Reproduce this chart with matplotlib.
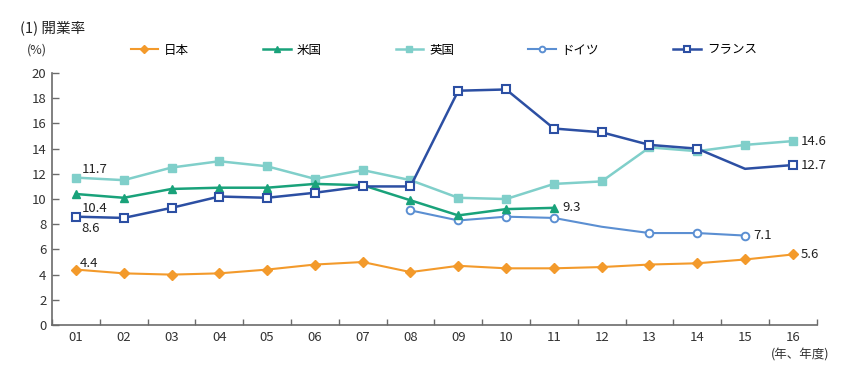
import matplotlib
matplotlib.use("Agg")
import matplotlib.pyplot as plt
import numpy as np

plt.rcParams["font.family"] = ["Noto Sans CJK JP", "DejaVu Sans"]

years = ["01", "02", "03", "04", "05", "06", "07", "08",
         "09", "10", "11", "12", "13", "14", "15", "16"]

japan = [4.4, 4.1, 4.0, 4.1, 4.4, 4.8, 5.0, 4.2,
         4.7, 4.5, 4.5, 4.6, 4.8, 4.9, 5.2, 5.6]
usa = [10.4, 10.1, 10.8, 10.9, 10.9, 11.2, 11.1, 9.9,
       8.7, 9.2, 9.3]
uk = [11.7, 11.5, 12.5, 13.0, 12.6, 11.6, 12.3, 11.5,
      10.1, 10.0, 11.2, 11.4, 14.1, 13.8, 14.3, 14.6]
germany = [9.1, 8.3, 8.6, 8.5, 7.8, 7.3, 7.3, 7.1]  # 08 - 15
france = [8.6, 8.5, 9.3, 10.2, 10.1, 10.5, 11.0, 11.0,
          18.6, 18.7, 15.6, 15.3, 14.3, 14.0, 12.4, 12.7]

# points drawn without a marker in the original
germany_marked = [0, 1, 2, 3, 5, 6, 7]
france_marked = [i for i in range(16) if i != 14]

c_jp = "#F39A2B"
c_us = "#19A27A"
c_uk = "#80CFCA"
c_de = "#5B8FD2"
c_fr = "#2C4FA3"
c_ax = "#6b6b6b"

fig = plt.figure(figsize=(8.42, 3.71), dpi=100)
ax = fig.add_axes([0.0618, 0.124, 0.9082, 0.679])

x = np.arange(len(years))
ax.plot(x, japan, color=c_jp, lw=1.5, marker="D", ms=5.5, mec=c_jp,
        label="日本", zorder=3)
ax.plot(x[:len(usa)], usa, color=c_us, lw=1.8, marker="^", ms=6, mec=c_us,
        label="米国", zorder=4)
ax.plot(x, uk, color=c_uk, lw=1.8, marker="s", ms=5.5, mec=c_uk,
        label="英国", zorder=3)
ax.plot(x[7:7 + len(germany)], germany, color=c_de, lw=1.5, marker="o", ms=5.5,
        mfc="white", mec=c_de, mew=1.4, markevery=germany_marked,
        label="ドイツ", zorder=3)
ax.plot(x, france, color=c_fr, lw=1.8, marker="s", ms=6, mfc="white",
        mec=c_fr, mew=1.5, markevery=france_marked, label="フランス", zorder=5)

lab = dict(fontsize=9.5, color="#222222")
ax.annotate(f"{uk[0]:.1f}", (x[0], uk[0]), xytext=(4, 1), textcoords="offset points",
            ha="left", va="bottom", **lab)
ax.annotate(f"{usa[0]:.1f}", (x[0], usa[0]), xytext=(4, -6), textcoords="offset points",
            ha="left", va="top", **lab)
ax.annotate(f"{france[0]:.1f}", (x[0], france[0]), xytext=(4, -4), textcoords="offset points",
            ha="left", va="top", **lab)
ax.annotate(f"{japan[0]:.1f}", (x[0], japan[0]), xytext=(3, 0), textcoords="offset points",
            ha="left", va="bottom", **lab)
for xs, ys in [(x[len(usa) - 1], usa[-1]), (x[14], germany[-1]),
               (x[-1], uk[-1]), (x[-1], france[-1]), (x[-1], japan[-1])]:
    ax.annotate(f"{ys:.1f}", (xs, ys), xytext=(6, 0), textcoords="offset points",
                ha="left", va="center", **lab)

ax.set_xlim(-0.5, 15.5)
ax.set_ylim(0, 20)
ax.set_yticks(np.arange(0, 21, 2))
ax.set_xticks(x)
ax.set_xticklabels(years)
ax.set_xticks(np.arange(-0.5, 16, 1), minor=True)
ax.tick_params(axis="x", which="major", length=0, pad=4, labelsize=9.5, labelcolor="#333333")
ax.tick_params(axis="x", which="minor", direction="in", length=4, color=c_ax, width=1)
ax.tick_params(axis="y", direction="in", length=5, color=c_ax, width=1, pad=4,
               labelsize=9.5, labelcolor="#333333")
for s in ["top", "right"]:
    ax.spines[s].set_visible(False)
for s in ["left", "bottom"]:
    ax.spines[s].set_color(c_ax)
    ax.spines[s].set_linewidth(1.2)

fig.text(0.024, 0.925, "(1) 開業率", fontsize=10.5, color="#222222", va="center")
fig.text(0.032, 0.865, "(%)", fontsize=9, color="#333333", va="center")
fig.text(0.985, 0.043, "(年、年度)", fontsize=9, color="#333333", ha="right", va="center")

fig.legend(loc="center left", bbox_to_anchor=(0.155, 0.865), ncol=5, frameon=False,
           fontsize=9, handlelength=2.2, handletextpad=0.5, columnspacing=5.9,
           borderaxespad=0, borderpad=0, markerscale=0.75)

fig.savefig("out.png", dpi=100)
